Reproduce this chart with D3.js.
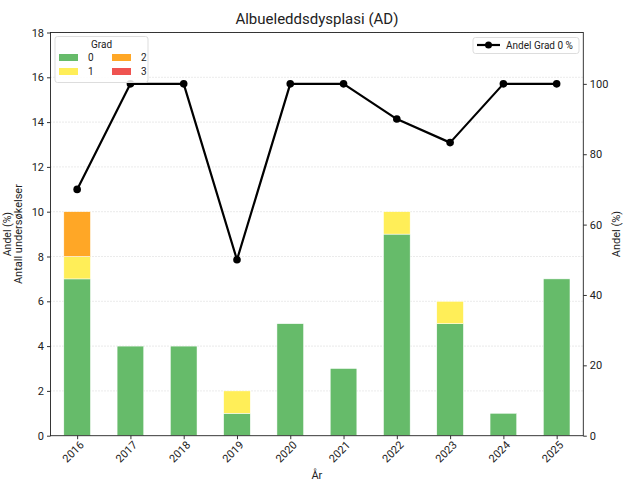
<!DOCTYPE html>
<html><head><meta charset="utf-8">
<script src="https://cdn.jsdelivr.net/npm/d3@7"></script>
<style>
body{margin:0;background:#fff;}
text{font-family:Roboto,"Open Sans",sans-serif;fill:#222;}
</style></head>
<body><svg id="c" width="629" height="483"></svg>
<script>
const years = ["2016","2017","2018","2019","2020","2021","2022","2023","2024","2025"];
const grad0 = [7,4,4,1,5,3,9,5,1,7];
const grad1 = [1,0,0,1,0,0,1,1,0,0];
const grad2 = [2,0,0,0,0,0,0,0,0,0];
const grad3 = [0,0,0,0,0,0,0,0,0,0];
const andel = [70,100,100,50,100,100,90,83.3,100,100];
const leftTicks = [0,2,4,6,8,10,12,14,16,18];
const rightTicks = [0,20,40,60,80,100];
const gradKeys = ["0","1","2","3"];
const gradColors = ["#66bb6a","#ffee58","#ffa726","#ef5350"];

const svg = d3.select("#c");
const L=50.5, R=583.3, T=32.5, B=435.7;
const x = d3.scaleLinear().domain([-0.5,9.5]).range([L,R]);
const y = d3.scaleLinear().domain([0,18]).range([B,T]);
const y2 = d3.scaleLinear().domain([0,114.6]).range([B,T]);
const bw = x(0.5)-x(0);

// grid
svg.append("g").selectAll("line").data(leftTicks.slice(1)).join("line")
  .attr("x1",L).attr("x2",R).attr("y1",d=>y(d)).attr("y2",d=>y(d))
  .attr("stroke","#cccccc").attr("stroke-width",0.8).attr("stroke-dasharray","1,2");

// stacked bars
const rows = years.map((yr,i)=>({i, g0:grad0[i],g1:grad1[i],g2:grad2[i],g3:grad3[i]}));
const stack = d3.stack().keys(["g0","g1","g2","g3"])(rows);
stack.forEach((s,k)=>{
  svg.append("g").selectAll("rect").data(s.filter(d=>d[1]>d[0])).join("rect")
    .attr("x",d=>x(d.data.i)-bw/2).attr("width",bw)
    .attr("y",d=>y(d[1])).attr("height",d=>y(d[0])-y(d[1]))
    .attr("fill",gradColors[k]).attr("stroke","#ffffff").attr("stroke-width",0.5);
});

// line
const line = d3.line().x((d,i)=>x(i)).y(d=>y2(d));
svg.append("path").datum(andel).attr("d",line).attr("fill","none")
  .attr("stroke","#000").attr("stroke-width",2.2).attr("stroke-linejoin","round");
svg.append("g").selectAll("circle").data(andel).join("circle")
  .attr("cx",(d,i)=>x(i)).attr("cy",d=>y2(d)).attr("r",3.8).attr("fill","#000");

// axes
const gl = svg.append("g").attr("transform",`translate(${L},0)`)
  .call(d3.axisLeft(y).tickValues(leftTicks).tickSize(3.5).tickPadding(3));
const gr = svg.append("g").attr("transform",`translate(${R},0)`)
  .call(d3.axisRight(y2).tickValues(rightTicks).tickSize(3.5).tickPadding(3));
const gx = svg.append("g").attr("transform",`translate(0,${B})`)
  .call(d3.axisBottom(x).tickValues(d3.range(10)).tickFormat(i=>years[i]).tickSize(3.5).tickPadding(3));
[gl,gr,gx].forEach(g=>{
  g.select(".domain").remove();
  g.selectAll("line").attr("stroke","#333");
  g.selectAll("text").style("font-size","11px").attr("fill","#222");
});
gx.selectAll("text").attr("text-anchor","end").attr("dx","-0.2em").attr("dy","0.5em")
  .attr("transform","rotate(-45)");
// frame
svg.append("rect").attr("x",L).attr("y",T).attr("width",R-L).attr("height",B-T)
  .attr("fill","none").attr("stroke","#222").attr("stroke-width",0.9);

// titles
svg.append("text").attr("x",(L+R)/2).attr("y",24).attr("text-anchor","middle")
  .style("font-size","15px").text("Albueleddsdysplasi (AD)");
svg.append("text").attr("x",(L+R)/2).attr("y",479).attr("text-anchor","middle")
  .style("font-size","11px").text("År");
svg.append("text").attr("transform",`translate(22,${(T+B)/2}) rotate(-90)`).attr("text-anchor","middle")
  .style("font-size","11px").text("Antall undersøkelser");
svg.append("text").attr("transform",`translate(10.5,${(T+B)/2}) rotate(-90)`).attr("text-anchor","middle")
  .style("font-size","10.5px").text("Andel (%)");
svg.append("text").attr("transform",`translate(620,${(T+B)/2}) rotate(-90)`).attr("text-anchor","middle")
  .style("font-size","11px").text("Andel (%)");

// legend Grad
const lg = svg.append("g");
lg.append("rect").attr("x",55).attr("y",36.5).attr("width",93).attr("height",46).attr("rx",2.5)
  .attr("fill","#fff").attr("fill-opacity",0.85).attr("stroke","#ddd");
lg.append("text").attr("x",101.5).attr("y",48).attr("text-anchor","middle").style("font-size","10px").text("Grad");
gradKeys.forEach((k,j)=>{
  const col = Math.floor(j/2), row = j%2;
  const sx = 59 + col*53, sy = 54 + row*14;
  lg.append("rect").attr("x",sx).attr("y",sy).attr("width",19).attr("height",7).attr("fill",gradColors[j]);
  lg.append("text").attr("x",sx+29).attr("y",sy+7).style("font-size","10px").text(k);
});
// legend line
const ll = svg.append("g");
ll.append("rect").attr("x",473).attr("y",37.5).attr("width",106).attr("height",16).attr("rx",2.5)
  .attr("fill","#fff").attr("fill-opacity",0.85).attr("stroke","#ddd");
ll.append("line").attr("x1",477).attr("x2",500).attr("y1",45).attr("y2",45).attr("stroke","#000").attr("stroke-width",2.2);
ll.append("circle").attr("cx",488.5).attr("cy",45).attr("r",3.5).attr("fill","#000");
ll.append("text").attr("x",506).attr("y",48.5).style("font-size","10px").text("Andel Grad 0 %");
</script></body></html>
